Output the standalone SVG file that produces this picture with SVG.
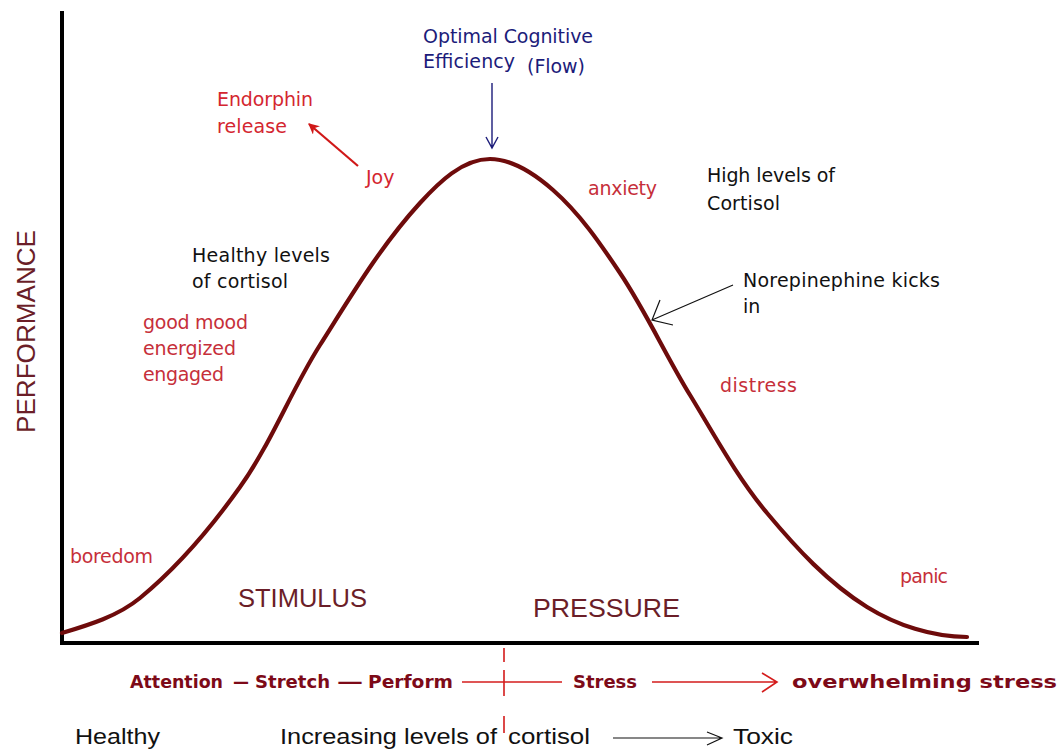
<svg xmlns="http://www.w3.org/2000/svg" width="1063" height="750" viewBox="0 0 1063 750">
  <style>
    .lbl { font-family: "DejaVu Sans", "Liberation Sans", sans-serif; font-size: 19px; }
    .red { fill: #c62f3a; }
    .bright { fill: #d42630; }
    .blk { fill: #111111; }
    .blue { fill: #1c1c7a; }
    .big { font-family: "Liberation Sans", Arial, sans-serif; font-size: 25px; fill: #6b1e28; }
    .low { font-family: "Liberation Sans", Arial, sans-serif; font-size: 22px; fill: #111111; }
    .bold { font-family: "DejaVu Sans", "Liberation Sans", sans-serif; font-weight: bold; font-size: 18px; fill: #7d0a18; }
    .axis { stroke: #000000; stroke-width: 4; fill: none; stroke-linecap: square; }
    .curve { stroke: #6e0b0b; stroke-width: 4.2; fill: none; stroke-linecap: round; stroke-linejoin: round; }
    .redline { stroke: #d41c1c; stroke-width: 1.6; fill: none; }
    .thin { stroke: #111111; stroke-width: 1.2; fill: none; }
  </style>
  <defs>
    <marker id="headRed" viewBox="0 0 10 10" refX="9" refY="5" markerWidth="5" markerHeight="5" orient="auto">
      <path d="M0,0 L10,5 L0,10 L3,5 Z" fill="#d01818"/>
    </marker>
  </defs>

  <rect width="1063" height="750" fill="#ffffff"/>

  <!-- axes -->
  <g id="axes">
    <path class="axis" d="M62,13 V643 H977"/>
  </g>

  <!-- performance curve -->
  <g id="curve">
    <path class="curve" d="M62,633
      C89.3,624.8 118,616.1 140,598
      C178.5,566.4 211.1,527.6 240,487
      C271.5,442.7 290.9,390.9 320,345
      C351,296.1 380.9,245.7 420,203
      C438.6,182.6 462.4,159 490,159
      C513.4,159 535.4,174.6 553,190
      C579.8,213.5 600.2,243.4 620,273
      C646.1,312 665.5,355 690,395
      C714.5,435.1 736.9,476.9 767,513
      C796.3,548.1 828.2,582.9 867,607
      C896.6,625.3 932.2,637 967,637"/>
  </g>

  <!-- connectors -->
  <g id="connectors">
    <!-- Joy to endorphin release -->
    <line x1="358" y1="166" x2="309" y2="124" stroke="#d01818" stroke-width="2.2" marker-end="url(#headRed)"/>
    <!-- flow pointer -->
    <path d="M492,83 V148 M486,137 L492,148 L498,137" stroke="#1c1c7a" stroke-width="1.4" fill="none"/>
    <!-- norepinephine pointer -->
    <path class="thin" d="M733,285 L652,320 M660,300 L652,320 L673,325"/>
    <!-- midpoint divider -->
    <path class="redline" d="M504,648 V662 M504,670 V696 M504,716 V733"/>
    <!-- bottom scale lines -->
    <path class="redline" d="M462,682 H562"/>
    <path class="redline" d="M652,682 H777 M762,673 L777,682 L762,692"/>
    <!-- cortisol to toxic -->
    <path class="thin" d="M613,738 H722 M707,732 L722,738 L707,745"/>
  </g>

  <!-- node labels -->
  <g id="node-flow">
    <text class="lbl blue" x="423" y="43" textLength="170" lengthAdjust="spacing">Optimal Cognitive</text>
    <text class="lbl blue" x="423" y="68" textLength="92" lengthAdjust="spacing">Efficiency</text>
    <text class="lbl blue" x="527" y="73" font-size="17" textLength="58" lengthAdjust="spacing">(Flow)</text>
  </g>
  <g id="node-endorphin">
    <text class="lbl bright" x="217" y="106" textLength="96" lengthAdjust="spacing">Endorphin</text>
    <text class="lbl bright" x="217" y="133" textLength="70" lengthAdjust="spacing">release</text>
  </g>
  <g id="node-joy">
    <text class="lbl bright" x="366" y="184">Joy</text>
  </g>
  <g id="node-anxiety">
    <text class="lbl red" x="588" y="195" textLength="69" lengthAdjust="spacing">anxiety</text>
  </g>
  <g id="node-high-cortisol">
    <text class="lbl blk" x="707" y="182" textLength="128" lengthAdjust="spacing">High levels of</text>
    <text class="lbl blk" x="707" y="210" textLength="73" lengthAdjust="spacing">Cortisol</text>
  </g>
  <g id="node-healthy-cortisol">
    <text class="lbl blk" x="192" y="262" textLength="138" lengthAdjust="spacing">Healthy levels</text>
    <text class="lbl blk" x="192" y="288" textLength="96" lengthAdjust="spacing">of cortisol</text>
  </g>
  <g id="node-good-mood">
    <text class="lbl red" x="143" y="329" textLength="105" lengthAdjust="spacing">good mood</text>
    <text class="lbl red" x="143" y="355" textLength="93" lengthAdjust="spacing">energized</text>
    <text class="lbl red" x="143" y="381" textLength="81" lengthAdjust="spacing">engaged</text>
  </g>
  <g id="node-norepinephine">
    <text class="lbl blk" x="743" y="287" textLength="197" lengthAdjust="spacing">Norepinephine kicks</text>
    <text class="lbl blk" x="743" y="313">in</text>
  </g>
  <g id="node-distress">
    <text class="lbl red" x="720" y="392" textLength="77" lengthAdjust="spacing">distress</text>
  </g>
  <g id="node-boredom">
    <text class="lbl red" x="70" y="563" textLength="83" lengthAdjust="spacing">boredom</text>
  </g>
  <g id="node-panic">
    <text class="lbl red" x="900" y="583" textLength="48" lengthAdjust="spacing">panic</text>
  </g>
  <g id="node-performance">
    <text class="big" transform="translate(35,433) rotate(-90)" font-size="27" textLength="203" lengthAdjust="spacingAndGlyphs">PERFORMANCE</text>
  </g>
  <g id="node-stimulus">
    <text class="big" x="238" y="607" textLength="129" lengthAdjust="spacingAndGlyphs">STIMULUS</text>
  </g>
  <g id="node-pressure">
    <text class="big" x="533" y="617" font-size="26" textLength="147" lengthAdjust="spacingAndGlyphs">PRESSURE</text>
  </g>

  <!-- stress scale -->
  <g id="node-scale">
    <text class="bold" x="130" y="688" textLength="93" lengthAdjust="spacingAndGlyphs">Attention</text>
    <text class="bold" x="232" y="688" textLength="18" lengthAdjust="spacingAndGlyphs">–</text>
    <text class="bold" x="255" y="688" textLength="75" lengthAdjust="spacingAndGlyphs">Stretch</text>
    <text class="bold" x="337" y="688" textLength="26" lengthAdjust="spacingAndGlyphs">—</text>
    <text class="bold" x="368" y="688" textLength="85" lengthAdjust="spacingAndGlyphs">Perform</text>
    <text class="bold" x="573" y="688" textLength="64" lengthAdjust="spacingAndGlyphs">Stress</text>
    <text class="bold" x="792" y="688" font-size="22" textLength="265" lengthAdjust="spacingAndGlyphs">overwhelming stress</text>
  </g>

  <!-- cortisol scale -->
  <g id="node-cortisol-scale">
    <text class="low" x="75" y="744" textLength="85" lengthAdjust="spacingAndGlyphs">Healthy</text>
    <text class="low" x="280" y="744" textLength="217" lengthAdjust="spacingAndGlyphs">Increasing levels of</text>
    <text class="low" x="508" y="744" textLength="82" lengthAdjust="spacingAndGlyphs">cortisol</text>
    <text class="low" x="733" y="744" textLength="60" lengthAdjust="spacingAndGlyphs">Toxic</text>
  </g>
</svg>
